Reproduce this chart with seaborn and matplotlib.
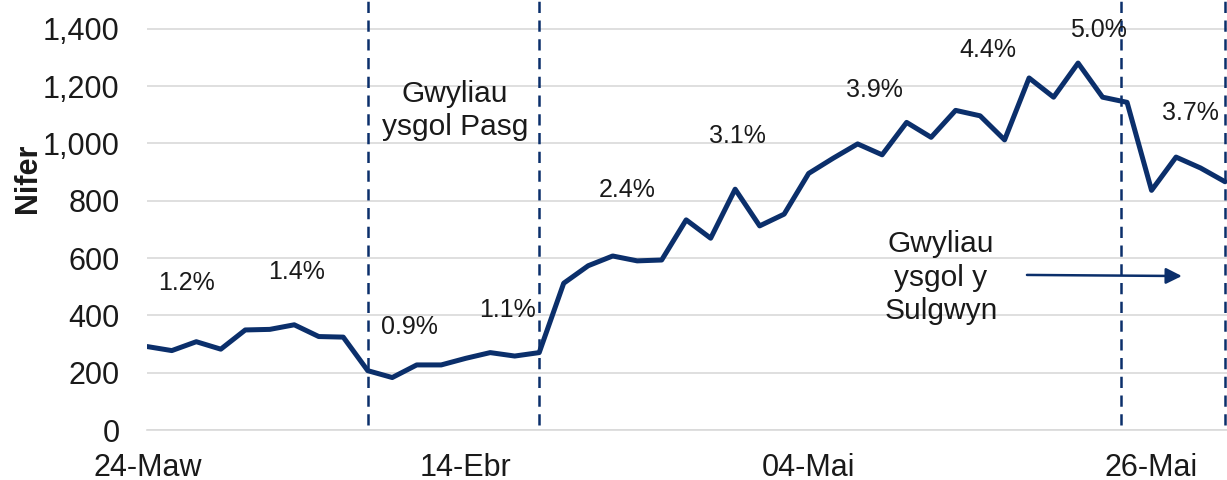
import numpy as np
import pandas as pd
import seaborn as sns
import matplotlib.pyplot as plt

# daily counts (one value per category on the x axis)
counts = [291, 277, 308, 282, 349, 351, 367, 326, 324, 207,
          183, 227, 227, 250, 270, 258, 270, 512, 573, 607,
          590, 593, 733, 669, 840, 712, 753, 895, 948, 998,
          960, 1073, 1021, 1115, 1096, 1012, 1228, 1161, 1280, 1161,
          1143, 836, 952, 914, 866]
date_labels = ["24-Maw", "14-Ebr", "04-Mai", "26-Mai"]
date_label_idx = [0, 13, 27, 41]
y_ticks = [0, 200, 400, 600, 800, 1000, 1200, 1400]

pct_labels = ["1.2%", "1.4%", "0.9%", "1.1%", "2.4%", "3.1%", "3.9%", "4.4%", "5.0%", "3.7%"]
pct_x = [1.6, 6.1, 10.7, 14.7, 19.6, 24.1, 29.7, 34.3, 38.85, 42.6]
pct_y = [513, 551, 360, 419, 838, 1026, 1187, 1326, 1396, 1107]

holiday_lines = [9, 16, 39.75, 44]

navy = "#0b2f6b"
grid = "#d9d9d9"
txt = "#1a1a1a"

sns.set_theme(style="white")
plt.rcParams['font.family'] = ['Liberation Sans', 'DejaVu Sans']

df = pd.DataFrame({"idx": np.arange(len(counts)), "count": counts})

fig = plt.figure(figsize=(12.27, 4.8), dpi=100)
ax = fig.add_axes([147.3 / 1227, 50 / 480, 1 - 147.3 / 1227, 430 / 480])

sns.lineplot(data=df, x="idx", y="count", color=navy, lw=3.6, ax=ax)

for x in holiday_lines:
    ax.vlines(x, 18, 1500, colors=navy, linestyles=(0, (4.5, 3)), lw=1.8, zorder=3)

ax.set_xlim(0, 44.08)
ax.set_ylim(0, 1500)
ax.set_yticks(y_ticks)
ax.set_yticklabels([f"{v:,}" for v in y_ticks], fontsize=22, color=txt)
ax.yaxis.grid(True, color=grid, lw=1.2)
ax.set_axisbelow(True)

ax.set_xticks(np.arange(len(counts)))
xl = [""] * len(counts)
for i, lab in zip(date_label_idx, date_labels):
    xl[i] = lab
ax.set_xticklabels(xl, fontsize=22, color=txt)
ax.tick_params(axis="x", length=6.5, width=1, color=grid, pad=10)
ax.tick_params(axis="y", length=0, pad=20)

for s in ["top", "right", "left"]:
    ax.spines[s].set_visible(False)
ax.spines["bottom"].set_color(grid)
ax.spines["bottom"].set_linewidth(1.2)

ax.set_xlabel("")
ax.set_ylabel("Nifer", fontsize=22, fontweight="bold", color=txt)
ax.yaxis.set_label_coords(-0.097, 0.586)

for lab, x, y in zip(pct_labels, pct_x, pct_y):
    ax.text(x, y, lab, fontsize=18, color=txt, ha="center", va="center")

ax.text(12.55, 1114, "Gwyliau\nysgol Pasg", fontsize=21.5, color=txt,
        ha="center", va="center", linespacing=1.25)
ax.text(32.4, 531, "Gwyliau\nysgol y\nSulgwyn", fontsize=21.5, color=txt,
        ha="center", va="center", linespacing=1.25)
ax.annotate("", xy=(42.35, 537), xytext=(35.8, 541),
            arrowprops=dict(arrowstyle="-|>", color=navy, lw=1.8, mutation_scale=24))

fig.savefig("out.png", dpi=100)
